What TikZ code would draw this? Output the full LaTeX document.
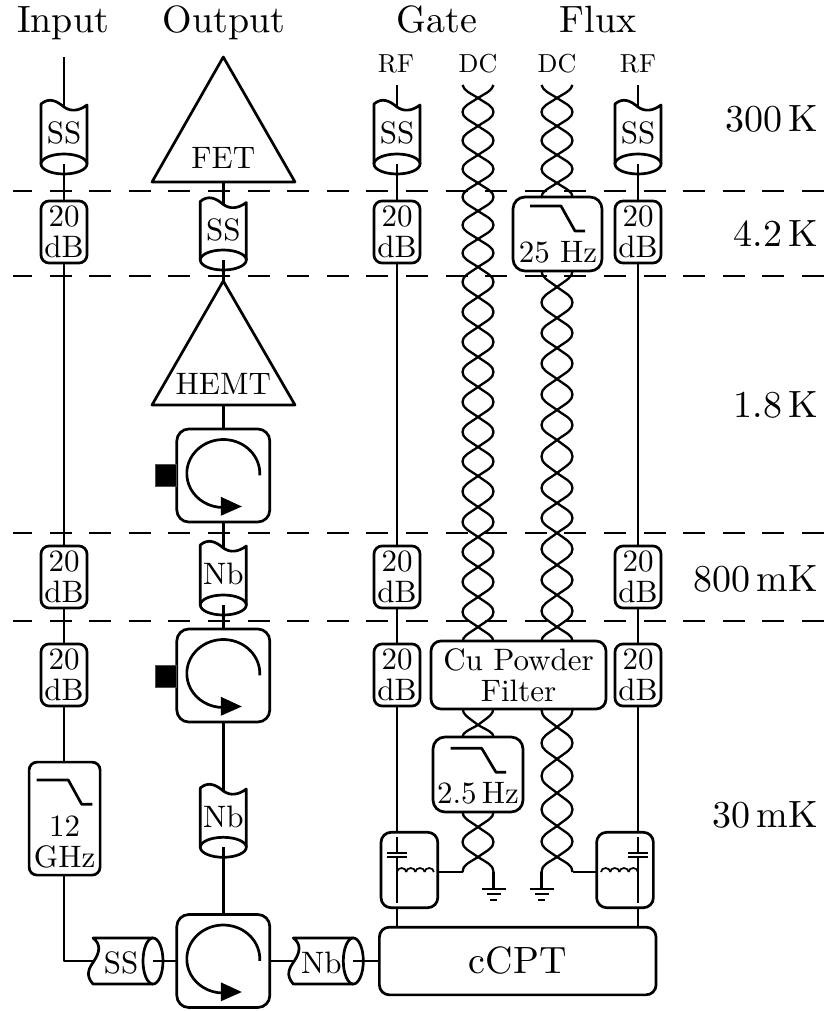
\documentclass[tikz,border=0pt]{standalone}
\usepackage{fontspec}
\setmainfont{lmroman10-regular.otf}
\tikzset{
  wire/.style={line width=2.7pt,line cap=butt,line join=round},
  pair/.style={line width=2.3pt,line join=round},
  thin wire/.style={line width=1.7pt},
  cutline/.style={line width=2.7pt,dash pattern=on 22pt off 17.6pt,dash phase=3pt},
  shell/.style={line width=2.7pt,draw=black,fill=white,line join=round},
  rbox/.style={draw=black,fill=white,line width=2.7pt,rounded corners=8pt,inner sep=0pt,outer sep=0pt,align=center,font=\intext},
  intext node/.style={inner sep=0pt,outer sep=0pt,font=\intext},
  head/.style={inner sep=0pt,outer sep=0pt,font=\headtext,anchor=base},
  temp/.style={inner sep=0pt,outer sep=0pt,font=\headtext,anchor=base east},
  rflabel/.style={inner sep=0pt,outer sep=0pt,font=\smalltext,anchor=base},
}
\newcommand{\intext}{\fontsize{31}{31.5}\selectfont}
\newcommand{\headtext}{\fontsize{38}{40}\selectfont}
\newcommand{\smalltext}{\fontsize{26}{27}\selectfont}
\newcommand{\Aa}{15.5}
% one lobe of a twisted pair: centre x, upper crossing, lower crossing
\newcommand{\lobe}[3]{%
  \foreach \sg in {1,-1}{%
    \draw[pair] (#1,#2) .. controls ({#1+\sg*.6*\Aa},{#2+.22*(#3-#2)}) and ({#1+\sg*\Aa},{#2+.3*(#3-#2)}) .. ({#1+\sg*\Aa},{(#2+#3)/2})
      .. controls ({#1+\sg*\Aa},{#3-.3*(#3-#2)}) and ({#1+\sg*.6*\Aa},{#3-.22*(#3-#2)}) .. (#1,#3);
  }}
% vertical coax: name, x, top y, ellipse y, text
\newcommand{\coaxV}[5]{%
  \fill[white] ({#2-23},#3) .. controls ({#2-15},{#3-7}) and ({#2-7},{#3-3}) .. (#2,{#3+3})
    .. controls ({#2+7},{#3+8}) and ({#2+15},{#3+7}) .. ({#2+23},{#3+1}) -- ({#2+23},#4) -- ({#2-23},#4) -- cycle;
  \draw[wire] ({#2-23},#4) -- ({#2-23},#3) .. controls ({#2-15},{#3-7}) and ({#2-7},{#3-3}) .. (#2,{#3+3})
    .. controls ({#2+7},{#3+8}) and ({#2+15},{#3+7}) .. ({#2+23},{#3+1}) -- ({#2+23},#4);
  \draw[shell] (#2,#4) ellipse [x radius=23,y radius=10];
  \node[intext node] (#1) at (#2,{(#3+#4)/2-1}) {#5};
  \coordinate (#1-in) at (#2,{#3+3});
  \coordinate (#1-out) at (#2,#4);
}
% horizontal coax: name, left x, ellipse x, y, text
\newcommand{\coaxH}[5]{%
  \fill[white] (#2,{#4-23}) .. controls ({#2+8},{#4-17}) and ({#2+7},{#4-9}) .. ({#2+1},#4)
    .. controls ({#2-4},{#4+7}) and ({#2-8},{#4+14}) .. (#2,{#4+23}) -- (#3,{#4+23}) -- (#3,{#4-23}) -- cycle;
  \draw[wire] (#3,{#4-23}) -- (#2,{#4-23}) .. controls ({#2+8},{#4-17}) and ({#2+7},{#4-9}) .. ({#2+1},#4)
    .. controls ({#2-4},{#4+7}) and ({#2-8},{#4+14}) .. (#2,{#4+23}) -- (#3,{#4+23});
  \draw[shell] (#3,#4) ellipse [x radius=10,y radius=23];
  \node[intext node] (#1) at ({(#2+#3)/2-2},{#4+2}) {#5};
  \coordinate (#1-in) at ({#2+1},#4);
  \coordinate (#1-out) at (#3,#4);
}
% circulator: name, cx, cy
\newcommand{\circul}[3]{%
  \node[rbox,minimum width=93pt,minimum height=93pt,rounded corners=12pt] (#1) at (#2,#3) {};
  \draw[wire] ({#2+36.45},{#3-.2}) arc[start angle=3,end angle=-270,x radius=36.5,y radius=34];
  \fill ({#2-2.5},{#3+21.3}) -- ({#2-2.5},{#3+40.3}) -- ({#2+18.5},{#3+31}) -- cycle;
}
% low-pass glyph: x0, x1, x2, x3, y upper, y lower
\newcommand{\lowpass}[6]{\draw[wire] (#1,#5) -- (#2,#5) -- (#3,#6) -- (#4,#6);}
% ground
\newcommand{\gnd}[2]{%
  \draw[line width=2.1pt] ({#1-12},#2) -- ({#1+12},#2);
  \draw[line width=2.1pt] ({#1-7},{#2+5.3}) -- ({#1+7},{#2+5.3});
  \draw[line width=2.1pt] ({#1-3.5},{#2+10.6}) -- ({#1+3.5},{#2+10.6});
}
% inductor: x start, y
\newcommand{\coil}[2]{%
  \foreach \k in {0,1,2,3}{%
    \draw[thin wire] ({#1+\k*9.2},#2) arc[start angle=180,end angle=360,x radius=4.6,y radius=4];
  }}
\begin{document}
\begin{tikzpicture}[x=1pt,y=-1pt]
\useasboundingbox (0,0) rectangle (824,1011);
\fill[white] (0,0) rectangle (824,1011);

% temperature stage boundaries
\foreach \yy in {191,276,533,621}{\draw[cutline] (13,\yy) -- (824,\yy);}

% twisted pairs (left: gate DC, right: flux DC)
\foreach \cc in {478,557}{
  \draw[pair] ({\cc+\Aa},85) .. controls ({\cc+.9*\Aa},91) and ({\cc+.5*\Aa},93) .. (\cc,98);
  \draw[pair] ({\cc-\Aa},85) .. controls ({\cc-.9*\Aa},91) and ({\cc-.5*\Aa},93) .. (\cc,98);
  \foreach \ya/\yb in {98/126,126/155,155/183,183/211}{\lobe{\cc}{\ya}{\yb}}
  \foreach \sg in {1,-1}{
    \draw[pair] (\cc,857) .. controls ({\cc+\sg*.6*\Aa},{857+6}) and ({\cc+\sg*\Aa},{857+8}) .. ({\cc+\sg*\Aa},872);
  }
}
\foreach \ya/\yb in {211/239,239/267,267/297,297/327,327/357,357/387,387/417,417/447,447/476,476/507,507/537,537/567,567/597,597/627,627/657,657/691,691/725,725/749,797/827,827/857}{\lobe{478}{\ya}{\yb}}
\foreach \ya/\yb in {255/287,287/318,318/348,348/379,379/410,410/440,440/473,473/503,503/533,533/565,565/595,595/627,627/655,655/693,693/727,727/759,759/793,793/826,826/857}{\lobe{557}{\ya}{\yb}}

% feedthrough ends of the pairs
\coordinate (gatetail) at (462.5,872);
\coordinate (gategnd) at (493.5,872);
\coordinate (fluxtail) at (572.5,872);
\coordinate (fluxgnd) at (541.5,872);

% attenuators
\foreach \nm/\xx in {ia/64,ga/397,fa/638}{
  \node[rbox,minimum width=46pt,minimum height=62pt] (\nm1) at (\xx,232) {20\\dB};
  \node[rbox,minimum width=46pt,minimum height=62pt] (\nm2) at (\xx,577) {20\\dB};
  \node[rbox,minimum width=46pt,minimum height=62pt] (\nm3) at (\xx,675) {20\\dB};
}

% filters
\node[rbox,minimum width=71pt,minimum height=113pt] (lp12) at (64.6,818.6) {};
\lowpass{36.7}{68.3}{81.7}{92.3}{780}{804.3}
\node[intext node,align=center] (lp12t) at (64.6,842) {12\\GHz};
\node[rbox,minimum width=89pt,minimum height=74pt,rounded corners=12pt] (lp25) at (557.5,234) {};
\lowpass{530}{561}{575}{585}{206}{231}
\node[intext node,anchor=base] (lp25t) at (558,262) {25 Hz};
\node[rbox,minimum width=90pt,minimum height=75pt,rounded corners=12pt] (lp2) at (478,774.5) {};
\lowpass{450.7}{481.7}{496}{506}{748.3}{772.3}
\node[intext node,anchor=base] (lp2t) at (478,803) {2.5\,Hz};
\node[rbox,minimum width=175pt,minimum height=68pt,rounded corners=10pt] (cu) at (518.5,675) {Cu Powder\\Filter};

% coax sections
\coaxV{ss1}{64}{104}{164}{SS}
\coaxV{ss2}{223.3}{201.5}{260}{SS}
\coaxV{ss3}{397}{104}{164}{SS}
\coaxV{ss4}{638}{104}{164}{SS}
\coaxV{nb1}{223.3}{545}{605}{Nb}
\coaxV{nb2}{223.3}{788}{847.3}{Nb}
\coaxH{ss5}{93}{153}{961}{SS}
\coaxH{nb3}{293.3}{353.3}{961}{Nb}

% amplifiers
\coordinate (fetin) at (223.3,57);
\coordinate (fetout) at (223.3,182);
\draw[shell] (fetin) -- (295,182) -- (152,182) -- cycle;
\node[intext node] (fet) at (223.3,158) {FET};
\coordinate (hemtin) at (223.3,281);
\coordinate (hemtout) at (223.3,405);
\draw[shell] (hemtin) -- (295,405) -- (152,405) -- cycle;
\node[intext node] (hemt) at (223.3,384) {HEMT};

% circulators
\circul{c1}{223.3}{475.5}
\circul{c2}{223.3}{675.5}
\circul{c3}{223.3}{961}
\node[draw=black!70,fill=black,line width=.8pt,minimum width=21pt,minimum height=22pt,inner sep=0pt,outer sep=0pt] (t1) at (165.6,475.5) {};
\node[draw=black!70,fill=black,line width=.8pt,minimum width=21pt,minimum height=22pt,inner sep=0pt,outer sep=0pt] (t2) at (165.6,676) {};

% bias tees
\node[rbox,minimum width=56.7pt,minimum height=75.4pt,rounded corners=10pt] (tee1) at (409.4,870) {};
\node[rbox,minimum width=56.7pt,minimum height=75.4pt,rounded corners=10pt] (tee2) at (625,870) {};
\draw[thin wire] (397,837) -- (397,852.7);
\draw[thin wire] (397,857.3) -- (397,903);
\draw[thin wire] (386.7,852.7) -- (406.7,852.7);
\draw[thin wire] (386.7,857.3) -- (406.7,857.3);
\coil{397}{872}
\draw[thin wire] (638,837) -- (638,852.7);
\draw[thin wire] (638,857.3) -- (638,903);
\draw[thin wire] (627.7,852.7) -- (647.7,852.7);
\draw[thin wire] (627.7,857.3) -- (647.7,857.3);
\coil{601}{872}

% device
\node[rbox,minimum width=276.7pt,minimum height=67.7pt,rounded corners=10pt,font=\headtext] (cpt) at (517.7,961) {cCPT};

% connectors: input
\coordinate (inputtop) at (64,57);
\draw[wire] (inputtop) -- (ss1-in);
\draw[wire] (ss1-out) -- (ia1.north);
\draw[wire] (ia1.south) -- (ia2.north);
\draw[wire] (ia2.south) -- (ia3.north);
\draw[wire] (ia3.south) -- (ia3.south |- lp12.north);
\draw[wire] (ia3.south |- lp12.south) |- (ss5-in);
\draw[wire] (ss5-out) -- (c3.west);
% connectors: output
\draw[wire] (c3.north) -- (nb2-out);
\draw[wire] (nb2-in) -- (c2.south);
\draw[wire] (c2.north) -- (nb1-out);
\draw[wire] (nb1-in) -- (c1.south);
\draw[wire] (c1.north) -- (hemtout);
\draw[wire] (hemtin) -- (ss2-out);
\draw[wire] (ss2-in) -- (fetout);
% connectors: cavity port
\draw[wire] (c3.east) -- (nb3-in);
\draw[wire] (nb3-out) -- (cpt.west);
% connectors: gate RF
\coordinate (gatetop) at (397,85);
\draw[wire] (gatetop) -- (ss3-in);
\draw[wire] (ss3-out) -- (ga1.north);
\draw[wire] (ga1.south) -- (ga2.north);
\draw[wire] (ga2.south) -- (ga3.north);
\draw[wire] (ga3.south) -- (ga3.south |- tee1.north);
\draw[wire] (ga3.south |- tee1.south) -- (ga3.south |- cpt.north);
% connectors: flux RF
\coordinate (fluxtop) at (638,85);
\draw[wire] (fluxtop) -- (ss4-in);
\draw[wire] (ss4-out) -- (fa1.north);
\draw[wire] (fa1.south) -- (fa2.north);
\draw[wire] (fa2.south) -- (fa3.north);
\draw[wire] (fa3.south) -- (fa3.south |- tee2.north);
\draw[wire] (fa3.south |- tee2.south) -- (fa3.south |- cpt.north);
% connectors: DC tails
\draw[wire] ([yshift=-2pt]tee1.east) -- (gatetail);
\draw[wire] (fluxtail) -- ([yshift=-2pt]tee2.west);
\coordinate (g1) at (493.5,889);
\coordinate (g2) at (541.5,889);
\draw[wire] (gategnd) -- (g1);
\draw[wire] (fluxgnd) -- (g2);
\gnd{493.5}{889}
\gnd{541.5}{889}

% labels
\node[head] (hi) at (63,33) {Input};
\node[head] (ho) at (224,33) {Output};
\node[head] (hg) at (437,33) {Gate};
\node[head] (hf) at (598,33) {Flux};
\node[rflabel] (l1) at (396,73) {RF};
\node[rflabel] (l2) at (478,73) {DC};
\node[rflabel] (l3) at (557,73) {DC};
\node[rflabel] (l4) at (638,73) {RF};
\node[temp] (t300) at (818,132) {300\,K};
\node[temp] (t42) at (818,246) {4.2\,K};
\node[temp] (t18) at (818,417) {1.8\,K};
\node[temp] (t800) at (818,591) {800\,mK};
\node[temp] (t30) at (818,827) {30\,mK};
\end{tikzpicture}
\end{document}
